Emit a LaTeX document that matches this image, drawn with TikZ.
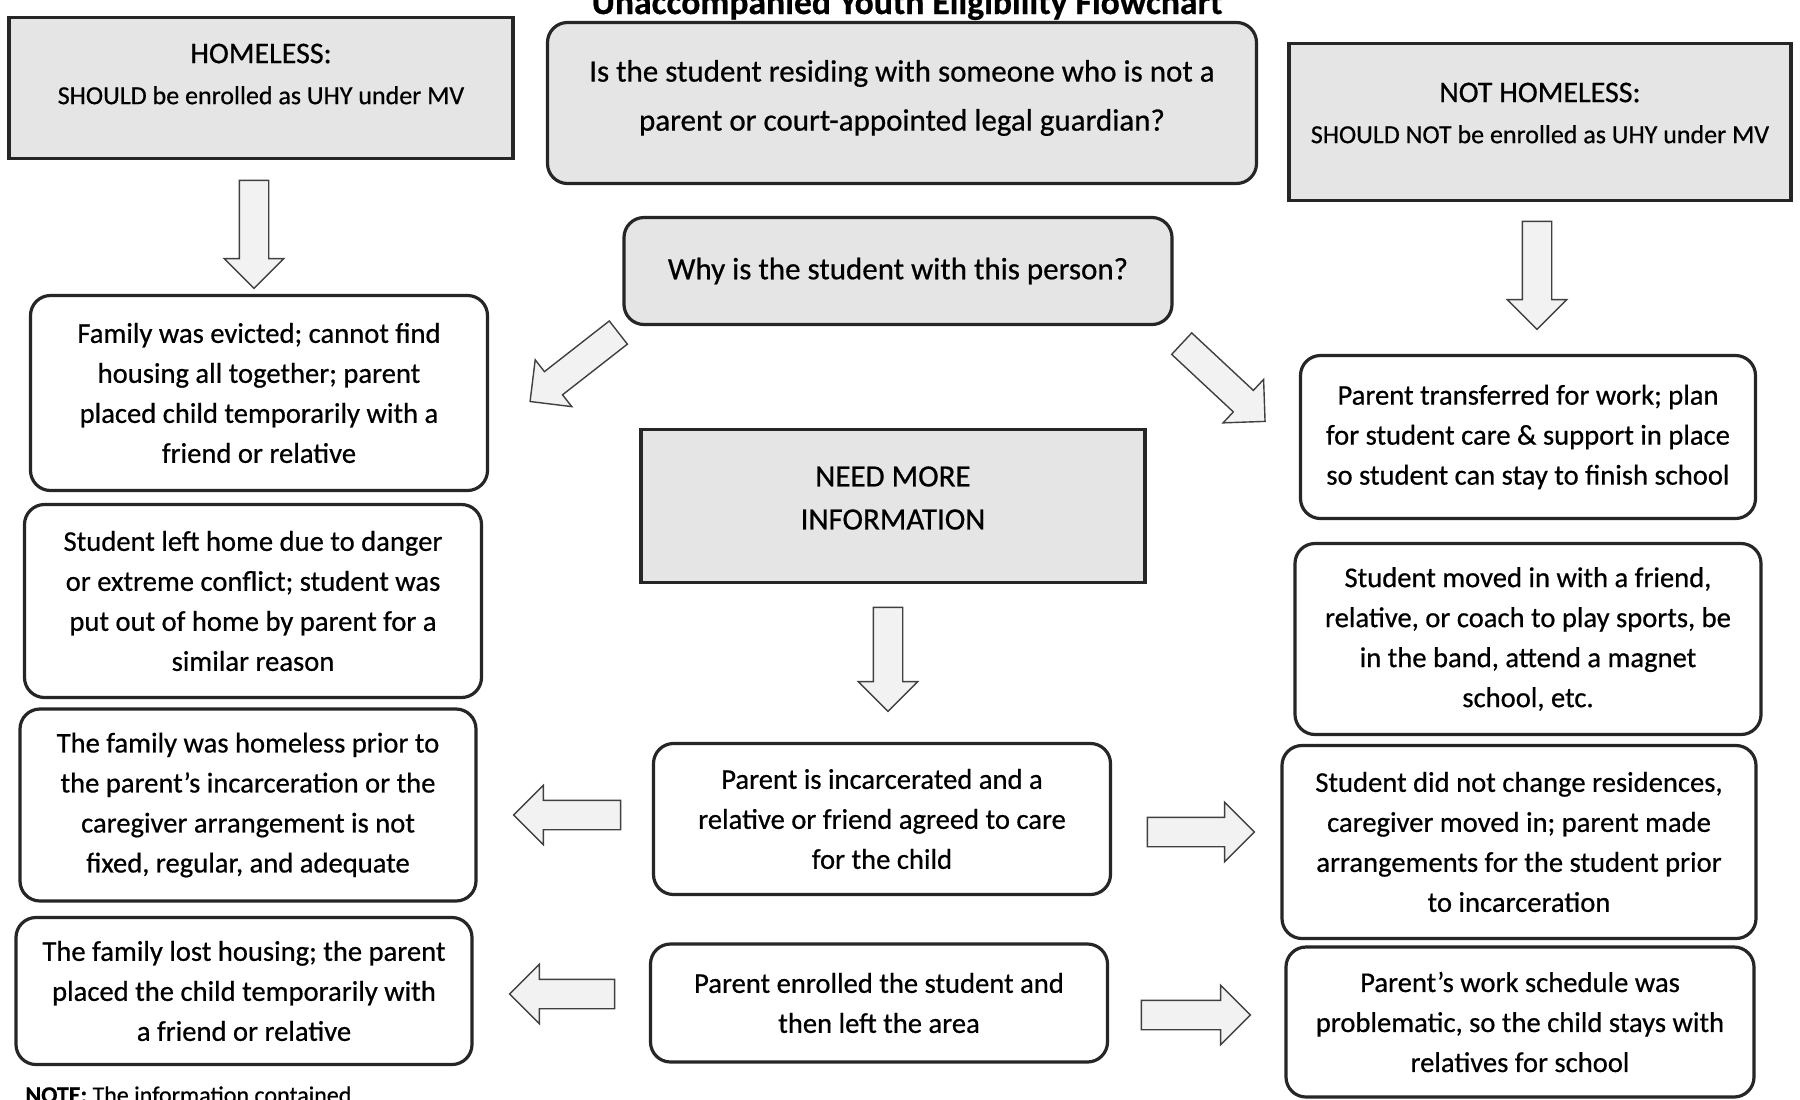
\documentclass[tikz,border=0pt]{standalone}
\usepackage{fontspec}
\setmainfont{Carlito}[FakeBold=0.6]
\usetikzlibrary{shapes.arrows,calc}
\begin{document}
\begin{tikzpicture}[x=0.5pt,y=-0.5pt,
  box/.style={draw=black!85, line width=1.6pt, align=center, font=\fontsize{14.3}{20}\selectfont, inner sep=0pt},
  graybox/.style={box, fill=black!10},
  rbox/.style={box, rounded corners=10pt, fill=white},
  rgbox/.style={rbox, fill=black!10},
  txt/.style={align=center, inner sep=0pt},
  barrow/.style={single arrow, draw=black!75, line width=0.7pt, fill=black!5, inner xsep=0pt, inner ysep=7pt, single arrow head extend=7.5pt},
]
\fill[white] (0,0) rectangle (1800,1099);
\useasboundingbox (0,0) rectangle (1800,1099);

% title (cut off at the top in the reference)
\node[anchor=base, font=\fontsize{17.8}{20}\selectfont\bfseries, inner sep=0pt] (title) at (907,14) {Unaccompanied Youth Eligibility Flowchart};

% top row
\node[graybox, minimum width=252pt, minimum height=70.5pt] (homeless) at (261,88) {};
\node[txt, font=\fontsize{13}{20.5}\selectfont] (homelessT) at (261,74) {{\fontsize{15}{20.5}\selectfont HOMELESS:}\\SHOULD be enrolled as UHY under MV};
\node[rgbox, minimum width=354.5pt, minimum height=80.5pt] (question) at (902,103) {};
\node[txt, font=\fontsize{15.5}{24.5}\selectfont] (questionT) at (902,98) {Is the student residing with someone who is not a\\parent or court-appointed legal guardian?};
\node[graybox, minimum width=251pt, minimum height=78.5pt] (nothomeless) at (1540,122) {};
\node[txt, font=\fontsize{13}{20.5}\selectfont] (nothomelessT) at (1540,113) {{\fontsize{15}{20.5}\selectfont NOT HOMELESS:}\\SHOULD NOT be enrolled as UHY under MV};
\node[rgbox, minimum width=274pt, minimum height=53.5pt, font=\fontsize{15.5}{20}\selectfont] (why) at (898,271) {Why is the student with this person?};

% left column
\node[rbox, minimum width=228.5pt, minimum height=97.5pt] (L1) at (259,393) {Family was evicted; cannot find\\housing all together; parent\\placed child temporarily with a\\friend or relative};
\node[rbox, minimum width=228.5pt, minimum height=96.5pt] (L2) at (253,601) {Student left home due to danger\\or extreme conflict; student was\\put out of home by parent for a\\similar reason};
\node[rbox, minimum width=228pt, minimum height=96pt] (L3) at (248,805) {The family was homeless prior to\\the parent’s incarceration or the\\caregiver arrangement is not\\fixed, regular, and adequate};
\node[rbox, minimum width=228pt, minimum height=73.5pt] (L4) at (244,991) {The family lost housing; the parent\\placed the child temporarily with\\a friend or relative};

% right column
\node[rbox, minimum width=227.5pt, minimum height=81.5pt] (R1) at (1528,437) {Parent transferred for work; plan\\for student care \& support in place\\so student can stay to finish school};
\node[rbox, minimum width=233pt, minimum height=95.5pt] (R2) at (1528,639) {Student moved in with a friend,\\relative, or coach to play sports, be\\in the band, attend a magnet\\school, etc.};
\node[rbox, minimum width=237pt, minimum height=96.5pt] (R3) at (1519,842) {Student did not change residences,\\caregiver moved in; parent made\\arrangements for the student prior\\to incarceration};
\node[rbox, minimum width=234pt, minimum height=75pt] (R4) at (1520,1022) {Parent’s work schedule was\\problematic, so the child stays with\\relatives for school};

% center column
\node[graybox, minimum width=252pt, minimum height=76.5pt] (need) at (893,506) {};
\node[txt, font=\fontsize{15.5}{21.5}\selectfont] (needT) at (893,498) {NEED MORE\\INFORMATION};
\node[rbox, minimum width=228.5pt, minimum height=75.5pt] (C1) at (882,819) {Parent is incarcerated and a\\relative or friend agreed to care\\for the child};
\node[rbox, minimum width=228.5pt, minimum height=59pt] (C2) at (879,1003) {Parent enrolled the student and\\then left the area};

% block arrows
\node[barrow, minimum height=54pt, rotate=-90] (a1) at (254,227) {};
\node[barrow, minimum height=54pt, rotate=-90] (a2) at (1537,268) {};
\node[barrow, minimum height=56pt, rotate=218] (a3) at (580,362.5) {};
\node[barrow, minimum height=57pt, rotate=-43] (a4) at (1218,377.5) {};
\node[barrow, minimum height=52pt, rotate=-90] (a5) at (888,652) {};
\node[barrow, minimum height=53.5pt, rotate=180] (a6) at (574.5,815) {};
\node[barrow, minimum height=52.5pt, rotate=180] (a7) at (569.5,994) {};
\node[barrow, minimum height=53.5pt] (a8) at (1193.5,832) {};
\node[barrow, minimum height=54.5pt] (a9) at (1188.5,1015) {};

% note (cut off at the bottom)
\node[anchor=base west, font=\fontsize{12}{14}\selectfont, inner sep=0pt] (note) at (25,1103) {\textbf{NOTE:} The information contained};
\end{tikzpicture}
\end{document}
